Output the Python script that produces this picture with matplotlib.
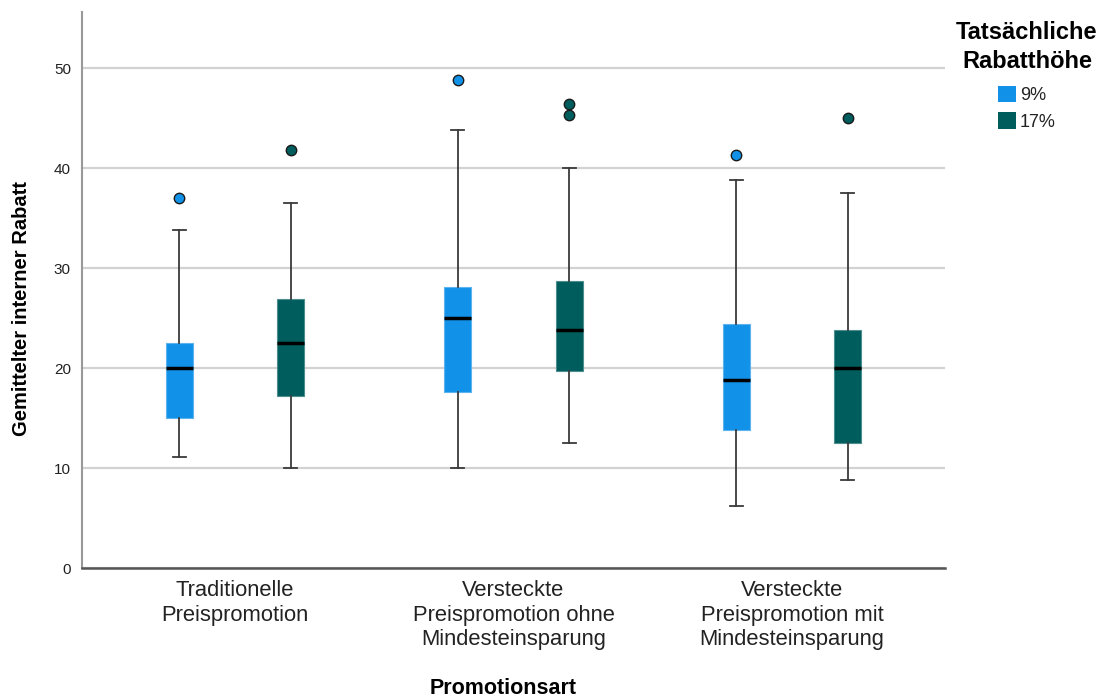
import matplotlib
matplotlib.use('Agg')
import matplotlib.pyplot as plt
from matplotlib.patches import Patch

plt.rcParams['font.family'] = ['Liberation Sans', 'DejaVu Sans']

# ---- data ----
groups = ["Traditionelle\nPreispromotion",
          "Versteckte\nPreispromotion ohne\nMindesteinsparung",
          "Versteckte\nPreispromotion mit\nMindesteinsparung"]
series = ["9%", "17%"]

whislo_9 = [11.1, 10.0, 6.2]
q1_9 = [15.05, 17.6, 13.8]
med_9 = [20.0, 25.0, 18.8]
q3_9 = [22.5, 28.1, 24.4]
whishi_9 = [33.8, 43.8, 38.8]
fliers_9 = [[37.0], [48.8], [41.3]]

whislo_17 = [10.0, 12.5, 8.8]
q1_17 = [17.2, 19.7, 12.5]
med_17 = [22.5, 23.8, 20.0]
q3_17 = [26.9, 28.7, 23.8]
whishi_17 = [36.5, 40.0, 37.5]
fliers_17 = [[41.8], [46.4, 45.3], [45.0]]

yticks = [0, 10, 20, 30, 40, 50]

colors = ["#1192e8", "#005d5d"]
edge_colors = ["#5db3ee", "#4d8d8d"]
offsets = [-0.2, 0.2]

series_data = [
    (whislo_9, q1_9, med_9, q3_9, whishi_9, fliers_9),
    (whislo_17, q1_17, med_17, q3_17, whishi_17, fliers_17),
]

fig = plt.figure(figsize=(11.07, 6.97), dpi=100)
ax = fig.add_axes([82 / 1107, 129 / 697, 863 / 1107, 556 / 697])

for k, (lo, q1, md, q3, hi, fl) in enumerate(series_data):
    stats = []
    for i in range(len(groups)):
        stats.append(dict(whislo=lo[i], q1=q1[i], med=md[i], q3=q3[i],
                          whishi=hi[i], fliers=fl[i]))
    positions = [i + offsets[k] for i in range(len(groups))]
    ax.bxp(stats, positions=positions, widths=0.097, capwidths=0.047,
           patch_artist=True, manage_ticks=False,
           boxprops=dict(facecolor=colors[k], edgecolor=edge_colors[k], linewidth=0.8),
           medianprops=dict(color='black', linewidth=2.5, solid_capstyle='butt'),
           whiskerprops=dict(color='#3a3a3a', linewidth=1.3),
           capprops=dict(color='#3a3a3a', linewidth=1.3),
           flierprops=dict(marker='o', markerfacecolor=colors[k],
                           markeredgecolor='#1a1a1a', markersize=7.5,
                           markeredgewidth=1.0))

ax.set_xlim(-0.55, 2.55)
ax.set_ylim(0, 55.6)
ax.set_yticks(yticks)
ax.set_yticklabels([str(v) for v in yticks], fontsize=11, color='#222222')
ax.set_xticks(range(len(groups)))
ax.set_xticklabels(groups, fontsize=15.8, color='#222222')
for lbl in ax.get_xticklabels():
    lbl.set_linespacing(1.2)
ax.tick_params(axis='both', length=0)
ax.tick_params(axis='y', pad=8)
ax.tick_params(axis='x', pad=9)

ax.yaxis.grid(True, color='#d2d2d2', linewidth=1.6)
ax.set_axisbelow(True)
ax.spines['top'].set_visible(False)
ax.spines['right'].set_visible(False)
ax.spines['left'].set_color('#999999')
ax.spines['left'].set_linewidth(1.5)
ax.spines['bottom'].set_color('#555555')
ax.spines['bottom'].set_linewidth(1.8)

fig.text(503 / 1107, 1 - 688 / 697, "Promotionsart", fontsize=15.5, fontweight='bold',
         ha='center', va='center')
fig.text(22 / 1107, 1 - 309 / 697, "Gemittelter interner Rabatt", fontsize=14.5,
         fontweight='bold', rotation=90, ha='center', va='center')

# legend title
fig.text(1027 / 1107, 1 - 47 / 697, "Tatsächliche\nRabatthöhe", fontsize=17,
         fontweight='bold', ha='center', va='center', multialignment='center',
         linespacing=1.3)

handles = [Patch(facecolor=c, edgecolor='none') for c in colors]
leg = fig.legend(handles, series, loc='upper left',
                 bbox_to_anchor=(998 / 1107, 1 - 86 / 697), frameon=False,
                 fontsize=13, handlelength=1.0, handleheight=1.0,
                 handletextpad=0.2, labelspacing=0.45, borderpad=0,
                 borderaxespad=0)
for t in leg.get_texts():
    t.set_color('#222222')

fig.savefig("out.png", dpi=100)
